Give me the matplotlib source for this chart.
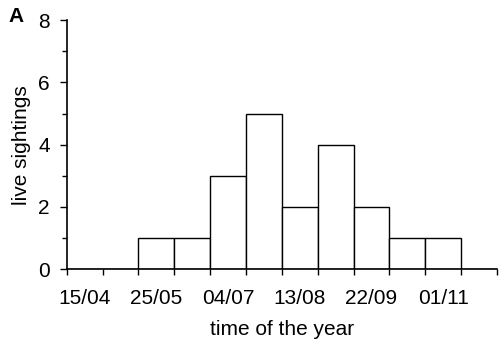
import matplotlib
matplotlib.use("Agg")
import matplotlib.pyplot as plt
import numpy as np

# 20-day bins, labelled by the start date of each bin
bin_starts = ["15/04", "05/05", "25/05", "14/06", "04/07", "24/07",
              "13/08", "02/09", "22/09", "12/10", "01/11", "21/11"]
sightings = [0, 0, 1, 1, 3, 5, 2, 4, 2, 1, 1, 0]
y_ticks = [0, 2, 4, 6, 8]

plt.rcParams["font.family"] = ["Liberation Sans", "DejaVu Sans"]

fig = plt.figure(figsize=(5.0, 3.48), dpi=100)
ax = fig.add_axes([0.1333, 0.2261, 0.994 - 0.1333, 0.9425 - 0.2261])

idx = np.arange(len(bin_starts))
ax.bar(idx, sightings, width=1.0, align="edge", facecolor="white",
       edgecolor="black", linewidth=1.0, zorder=2)

ax.set_xlim(0, len(bin_starts))
ax.set_ylim(0, 8)

for s in ("top", "right"):
    ax.spines[s].set_visible(False)
for s in ("left", "bottom"):
    ax.spines[s].set_linewidth(1.2)
    ax.spines[s].set_zorder(3)

# ticks at bin edges, labels centred under every other bin
ax.set_xticks(np.arange(len(bin_starts) + 1))
ax.set_xticklabels([])
ax.set_xticks(idx[::2] + 0.5, minor=True)
ax.set_xticklabels(bin_starts[::2], minor=True)
ax.tick_params(axis="x", which="major", direction="out", length=4, width=1.0)
ax.tick_params(axis="x", which="minor", length=0, pad=14, labelsize=15)

ax.set_yticks(y_ticks)
ax.set_yticks([1, 3, 5, 7], minor=True)
ax.tick_params(axis="y", which="major", direction="out", length=5, width=1.0,
               pad=7, labelsize=15)
ax.tick_params(axis="y", which="minor", direction="out", length=3.5, width=1.0)

ax.set_xlabel("time of the year", fontsize=15, labelpad=9)
ax.set_ylabel("live sightings", fontsize=15, labelpad=5)

fig.text(0.016, 0.98, "A", fontsize=15, fontweight="bold", va="top", ha="left")

fig.savefig("out.png", dpi=100)
